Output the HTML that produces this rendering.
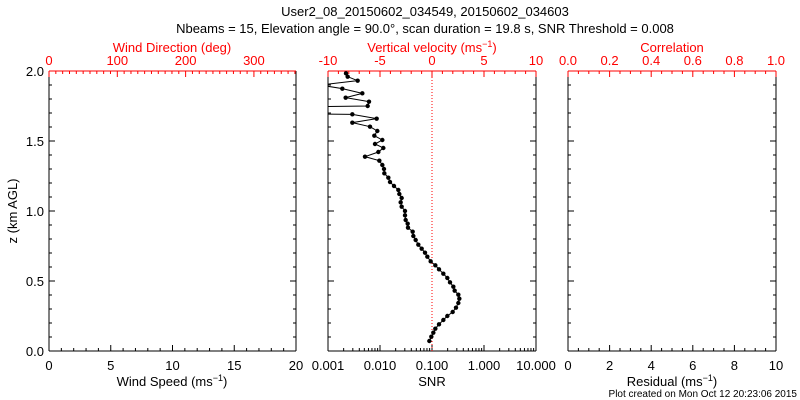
<!DOCTYPE html>
<html><head><meta charset="utf-8"><style>
body{margin:0;background:#fff;}
svg{display:block;font-family:"Liberation Sans",sans-serif;}
</style></head><body>
<svg id="s" width="800" height="400" xmlns="http://www.w3.org/2000/svg">
<text x="425" y="16" font-size="13" text-anchor="middle">User2_08_20150602_034549, 20150602_034603</text>
<text x="425" y="33" font-size="13" text-anchor="middle">Nbeams = 15, Elevation angle = 90.0°, scan duration = 19.8 s, SNR Threshold = 0.008</text>
<defs><clipPath id="c"><rect x="328" y="71" width="208" height="280"/></clipPath></defs>
<g id="g"></g>
</svg>
<script>
const g=document.getElementById('g');let h='';
const T=71,B=351;
function ln(x1,y1,x2,y2,c,w){h+=`<line x1="${x1}" y1="${y1}" x2="${x2}" y2="${y2}" stroke="${c}" stroke-width="${w||1}"/>`;}
function tx(x,y,s,c,a){h+=`<text x="${x}" y="${y}" font-size="13" fill="${c||'#000'}" text-anchor="${a||'middle'}">${s}</text>`;}
function panel(L,R){
 ln(L,B,R,B,'#000');ln(L,T,L,B,'#000');ln(R,T,R,B,'#000');
 for(let i=0;i<=20;i++){let y=B-i*14,len=i%5==0?6:3;ln(L,y,L+len,y,'#000');ln(R,y,R-len,y,'#000');}
}
function lin(L,R,a,b,maj,min,labs,top,col,fmt){
 for(let v=a;v<=b+1e-9;v+=min){let x=L+(v-a)/(b-a)*(R-L);let m=Math.abs(v/maj-Math.round(v/maj))<1e-6;let len=m?6:3;
  if(top)ln(x,T,x,T+len,col);else ln(x,B,x,B-len,col);
  if(m&&labs)tx(x,top?T-6:B+19,fmt(v),col);}
}
const red='#f00';
// left
panel(49,296);ln(49,T,296,T,red);
lin(49,296,0,20,5,1,1,0,'#000',v=>v.toFixed(0));
lin(49,296,0,361.6,100,10,1,1,red,v=>v.toFixed(0));
tx(172,52,'Wind Direction (deg)',red);
tx(172,386,'Wind Speed (ms<tspan dy="-5" font-size="9">−1</tspan><tspan dy="5">)</tspan>');
for(let i=0;i<=4;i++)tx(44,B-i*70+5,(i*0.5).toFixed(1),'#000','end');
h+=`<text transform="translate(17,211) rotate(-90)" font-size="13" text-anchor="middle">z (km AGL)</text>`;
// middle
panel(328,536);ln(328,T,536,T,red);
lin(328,536,-10,10,5,1,1,1,red,v=>v.toFixed(0));
for(let d=0;d<4;d++)for(let k=1;k<10;k++){let x=328+52*(d+Math.log10(k));ln(x,B,x,B-(k==1?6:3),'#000');}
ln(536,B,536,B-6,'#000');
['0.001','0.010','0.100','1.000','10.000'].forEach((s,i)=>tx(328+52*i,B+19,s));
tx(432,52,'Vertical velocity (ms<tspan dy="-5" font-size="9">−1</tspan><tspan dy="5">)</tspan>',red);
tx(432,386,'SNR');
ln(432,T,432,B,red);h=h.replace(/stroke="#f00" stroke-width="1"\/>$/,'stroke="#f00" stroke-width="1" stroke-dasharray="1,2"/>');
// right
panel(568,776);ln(568,T,776,T,red);
lin(568,776,0,1,0.2,0.05,1,1,red,v=>v.toFixed(1));
lin(568,776,0,10,2,0.5,1,0,'#000',v=>v.toFixed(0));
tx(672,52,'Correlation',red);
tx(672,386,'Residual (ms<tspan dy="-5" font-size="9">−1</tspan><tspan dy="5">)</tspan>');
h+=`<text x="797" y="397" font-size="10" text-anchor="end">Plot created on Mon Oct 12 20:23:06 2015</text>`;
// data (zoom coords)
const p=[[78,40],[83,50],[113,62],[0,75],[67,86],[127,100],[77,113],[147,125],[143,138],[0,140],[0,162],[97,163],[170,176],[97,188],[150,200],[172,213],[163,227],[187,240],[165,252],[190,264],[175,276],[135,290],[178,302],[187,315],[192,327],[193,340],[205,353],[210,366],[222,378],[235,390],[238,402],[245,414],[242,427],[245,440],[255,453],[255,466],[257,480],[263,491],[264,503],[278,515],[280,528],[287,540],[295,554],[305,566],[315,578],[322,590],[332,604],[346,616],[357,628],[370,641],[382,654],[390,667],[400,680],[404,692],[415,704],[418,716],[415,729],[408,743],[398,756],[382,768],[370,780],[357,793],[346,806],[340,818],[334,830],[328,843]].map(q=>[320+q[0]/3,60+q[1]/3]);
h+=`<g clip-path="url(#c)"><polyline fill="none" stroke="#000" stroke-width="1" points="${p.map(q=>q.join(',')).join(' ')}"/>`;
p.forEach(q=>{h+=`<circle cx="${q[0]}" cy="${q[1]}" r="2.2" fill="#000"/>`;});
h+='</g>';
g.innerHTML=h;
</script>
</body></html>
